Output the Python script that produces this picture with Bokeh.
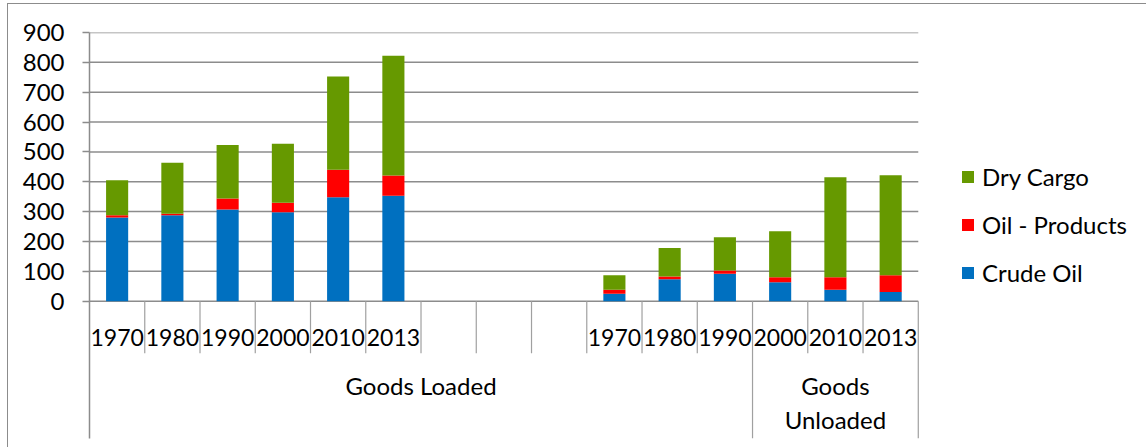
from bokeh.plotting import figure
from bokeh.models import ColumnDataSource, Range1d, FixedTicker, Legend, LegendItem
from bokeh.core.properties import value
from bokeh.embed import file_html
from bokeh.resources import INLINE

# ---------------- data ----------------
years = ["1970", "1980", "1990", "2000", "2010", "2013"]
loaded_crude = [280, 288, 307, 298, 348, 353]
loaded_oil = [8, 5, 37, 32, 92, 68]
loaded_dry = [117, 171, 179, 197, 313, 401]
unloaded_crude = [25, 73, 92, 63, 38, 31]
unloaded_oil = [13, 10, 11, 17, 42, 56]
unloaded_dry = [49, 95, 111, 154, 335, 335]
n_blank = 3                                  # empty category slots between the two groups
group_labels = ["Goods Loaded", "Goods\nUnloaded"]
group_spans = [12, 3]                        # categories covered by each group label
series = ["Crude Oil", "Oil - Products", "Dry Cargo"]
colors = ["#0070C0", "#FF0000", "#669900"]
y_ticks = [0, 100, 200, 300, 400, 500, 600, 700, 800, 900]

# ---------------- layout constants ----------------
FONT = "Lato"
FS = "24px"
FS_CAT = "23px"
W, H = 1139, 444            # element size (includes 1px chart border on left/top)
LEFT, TOP = 81, 28          # frame offsets inside the canvas
FRAME_H = 405
BOTTOM = (H - 1) - TOP - FRAME_H
PX_CAT = 55.2
Y_MAX = 900
PX_UNIT = 268 / 900
GRID = "#8c8c8c"
SEP = "#a0a0a0"

cat_labels = years + [""] * n_blank + years
n_cat = len(cat_labels)
x_loaded = list(range(len(years)))
x_unloaded = [len(years) + n_blank + i for i in range(len(years))]

y_min = Y_MAX - FRAME_H / PX_UNIT
x_max = -0.5 + ((W - 1) - LEFT) / PX_CAT

p = figure(width=W, height=H, output_backend="svg", toolbar_location=None,
           x_axis_location=None, x_range=Range1d(-0.5, x_max), y_range=Range1d(y_min, Y_MAX),
           min_border_left=LEFT, min_border_right=0, min_border_top=TOP, min_border_bottom=BOTTOM,
           styles={"margin-left": "7px", "margin-top": "3px",
                   "border-left": "1px solid #8c8c8c", "border-top": "1px solid #8c8c8c"})
p.outline_line_color = None
p.xgrid.visible = False
p.ygrid.visible = False
p.background_fill_color = "white"
p.border_fill_color = "white"

# y axis
p.yaxis.ticker = FixedTicker(ticks=y_ticks)
p.yaxis.minor_tick_line_color = None
p.yaxis.major_tick_in = 0
p.yaxis.major_tick_out = 7
p.yaxis.major_tick_line_color = GRID
p.yaxis.major_tick_line_width = 1.5
p.yaxis.axis_line_color = GRID
p.yaxis.axis_line_width = 1.5
p.yaxis.major_label_standoff = 18
p.yaxis.major_label_text_font = FONT
p.yaxis.major_label_text_font_size = FS
p.yaxis.major_label_text_color = "black"

# horizontal gridlines across the category area
p.segment(x0=-0.5, x1=n_cat - 0.5, y0=y_ticks, y1=y_ticks, line_color=GRID, line_width=1.5)

# stacked bars
src_l = ColumnDataSource(dict(x=x_loaded, c=loaded_crude, o=loaded_oil, d=loaded_dry))
src_u = ColumnDataSource(dict(x=x_unloaded, c=unloaded_crude, o=unloaded_oil, d=unloaded_dry))
rl = p.vbar_stack(["c", "o", "d"], x="x", width=0.4, color=colors, line_color=None, source=src_l)
ru = p.vbar_stack(["c", "o", "d"], x="x", width=0.4, color=colors, line_color=None, source=src_u)

# category axis separators
group_edges = []
acc = 0
for s in group_spans:
    acc += s
    group_edges.append(acc)
short_x = [k - 0.5 for k in range(1, n_cat) if k not in group_edges]
long_x = [k - 0.5 for k in group_edges]
p.segment(x0=short_x, x1=short_x, y0=0, y1=-52 / PX_UNIT, line_color=SEP, line_width=1.2)
p.segment(x0=long_x, x1=long_x, y0=0, y1=y_min, line_color=SEP, line_width=1.2)

# category labels
p.text(x=list(range(n_cat)), y=-36 / PX_UNIT, text=cat_labels, text_font=value(FONT),
       text_font_size=FS_CAT, text_align="center", text_baseline="middle", text_color="black")

# group labels
starts = [e - s for e, s in zip(group_edges, group_spans)]
gx = [st + sp / 2 - 0.5 for st, sp in zip(starts, group_spans)]
p.text(x=gx, y=-70 / PX_UNIT, text=group_labels, text_font=value(FONT), text_font_size=FS,
       text_align="center", text_baseline="top", text_color="black", text_line_height=1.17)

# legend
items = [LegendItem(label=series[i], renderers=[rl[i], ru[i]]) for i in (2, 1, 0)]
legend = Legend(items=items, location=(871, 151), orientation="vertical",
                glyph_width=15, glyph_height=15, label_height=25, spacing=19,
                label_standoff=7, padding=0, margin=0, border_line_color=None,
                background_fill_alpha=0, label_text_font=FONT, label_text_font_size=FS,
                label_text_color="black")
p.add_layout(legend)

open("out.html", "w").write(file_html(p, INLINE))
